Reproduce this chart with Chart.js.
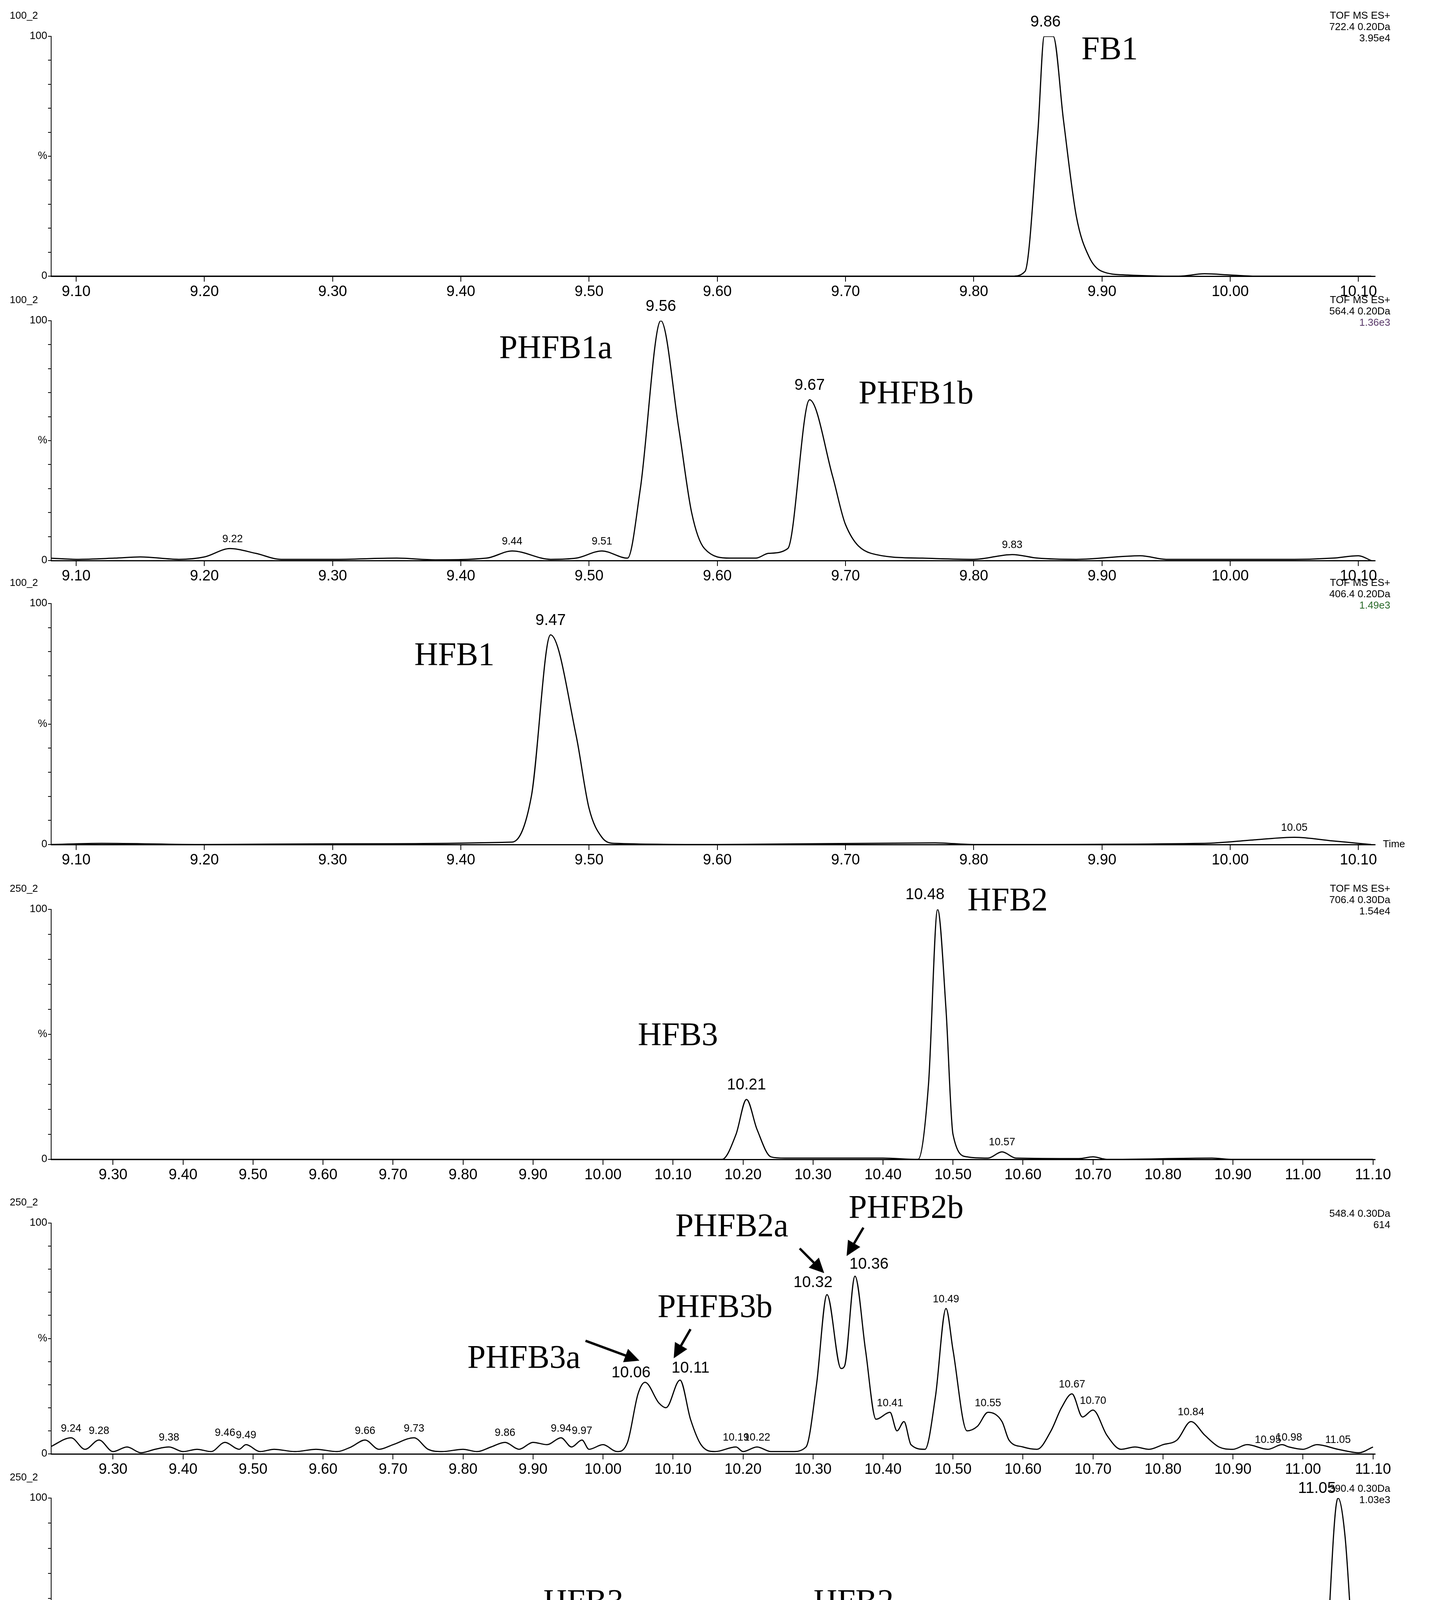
<!DOCTYPE html>
<html>
<head>
<meta charset="utf-8">
<script src="https://cdn.jsdelivr.net/npm/chart.js@4/dist/chart.umd.min.js"></script>
<style>
  body { margin: 0; background: #fff; width: 3677px; height: 4571px; position: relative; overflow: hidden; }
  canvas { position: absolute; left: 0; }
</style>
</head>
<body>
<script>
// x tick labels
const ticksA = [9.10, 9.20, 9.30, 9.40, 9.50, 9.60, 9.70, 9.80, 9.90, 10.00, 10.10];
const ticksB = [9.30, 9.40, 9.50, 9.60, 9.70, 9.80, 9.90, 10.00, 10.10, 10.20, 10.30, 10.40, 10.50, 10.60, 10.70, 10.80, 10.90, 11.00, 11.10];

// traces: [time, %]
const traceFB1 = [[9.08,0],[9.50,0],[9.83,0],[9.84,2],[9.85,60],[9.855,100],[9.862,100],[9.87,65],[9.88,25],[9.89,8],[9.90,2],[9.92,0.5],[9.96,0],[9.98,1],[10.00,0.5],[10.02,0],[10.11,0]];
const tracePHFB1 = [[9.08,1],[9.10,0.5],[9.13,1],[9.15,1.5],[9.18,0.5],[9.20,1.5],[9.22,5],[9.24,3],[9.26,0.5],[9.30,0.5],[9.35,1],[9.38,0.3],[9.42,1],[9.44,4],[9.47,0.5],[9.49,1],[9.51,4],[9.53,1],[9.54,30],[9.556,100],[9.57,55],[9.58,20],[9.59,5],[9.61,1],[9.63,1],[9.64,3],[9.655,5],[9.672,67],[9.69,35],[9.70,15],[9.72,3],[9.76,1],[9.80,0.5],[9.83,2.5],[9.85,1],[9.88,0.5],[9.93,2],[9.95,0.5],[10.00,0.5],[10.05,0.5],[10.08,1],[10.10,2],[10.11,0]];
const traceHFB1 = [[9.08,0],[9.12,0.5],[9.20,0],[9.30,0.3],[9.44,1],[9.455,20],[9.47,87],[9.49,45],[9.50,15],[9.51,3],[9.52,0.5],[9.60,0],[9.77,0.7],[9.80,0],[9.98,0.5],[10.02,2],[10.05,3],[10.08,1.5],[10.10,0.5],[10.11,0]];
const traceHFB23 = [[9.21,0],[9.80,0],[10.17,0],[10.19,10],[10.205,24],[10.22,12],[10.24,1],[10.26,0.5],[10.40,0.5],[10.45,0],[10.465,30],[10.478,100],[10.49,60],[10.50,10],[10.52,1],[10.55,0.5],[10.57,3],[10.59,0.5],[10.68,0.3],[10.70,1],[10.72,0],[10.87,0.5],[10.90,0],[11.10,0]];
const tracePHFB23 = [[9.21,3],[9.24,7],[9.26,2],[9.28,6],[9.30,1],[9.32,3],[9.34,0.5],[9.36,2],[9.38,3],[9.40,1],[9.42,2],[9.44,1],[9.46,5],[9.48,2],[9.49,4],[9.51,1],[9.53,2],[9.56,1],[9.59,2],[9.62,1],[9.64,3],[9.66,6],[9.68,2],[9.70,4],[9.73,7],[9.75,2],[9.77,1],[9.80,2],[9.82,1],[9.84,3],[9.86,5],[9.88,2],[9.90,5],[9.92,4],[9.94,7],[9.955,3],[9.97,6],[9.98,2],[10.00,4],[10.02,1],[10.035,5],[10.05,26],[10.06,31],[10.08,22],[10.09,20],[10.11,32],[10.125,15],[10.14,4],[10.16,1],[10.19,3],[10.20,1],[10.22,3],[10.24,1],[10.27,1],[10.29,3],[10.305,30],[10.32,69],[10.34,37],[10.345,38],[10.36,77],[10.375,45],[10.39,15],[10.41,18],[10.42,10],[10.43,14],[10.44,4],[10.46,2],[10.475,25],[10.49,63],[10.50,45],[10.52,10],[10.535,12],[10.55,18],[10.57,14],[10.58,6],[10.60,3],[10.62,2],[10.64,10],[10.655,20],[10.67,26],[10.685,16],[10.70,19],[10.72,8],[10.74,2],[10.76,3],[10.78,2],[10.80,4],[10.82,6],[10.84,14],[10.86,8],[10.88,3],[10.90,2],[10.92,4],[10.95,2],[10.97,4],[10.98,3],[11.00,2],[11.02,4],[11.05,2],[11.08,0.5],[11.10,3]];
const traceHFB23b = [[9.21,1],[9.23,1.5],[9.25,0.5],[9.27,1],[9.30,0.5],[9.32,5],[9.33,13],[9.345,5],[9.36,1],[9.38,2],[9.40,1.5],[9.43,2],[9.46,1],[9.50,1.5],[9.55,1],[9.60,1.5],[9.65,1],[9.70,1],[9.75,1.5],[9.80,1],[9.85,1],[9.88,2],[9.90,1],[9.93,2],[9.95,1],[9.98,1],[10.00,3],[10.02,5],[10.035,4],[10.05,1],[10.06,15],[10.075,20],[10.09,44],[10.10,25],[10.11,5],[10.12,1],[10.15,1],[10.17,3],[10.19,1],[10.21,3],[10.23,6],[10.25,4],[10.27,5],[10.29,5],[10.30,1],[10.315,25],[10.32,29],[10.335,25],[10.35,10],[10.37,3],[10.40,2],[10.43,1],[10.47,1],[10.50,1],[10.53,1],[10.55,3],[10.57,7],[10.59,5],[10.62,3],[10.65,2],[10.68,5],[10.70,4],[10.73,1],[10.76,2],[10.79,5],[10.81,3],[10.84,1],[10.87,2],[10.90,3],[10.92,6],[10.94,3],[10.95,1],[10.96,8],[10.975,3],[10.99,1],[11.02,1],[11.03,20],[11.05,100],[11.06,85],[11.075,25],[11.09,2],[11.10,3]];

// peak labels: [time, %, text, size]
const peaks1 = [[9.856,102,'9.86','big']];
const peaks2 = [[9.222,6,'9.22'],[9.44,5,'9.44'],[9.51,5,'9.51'],[9.83,3.5,'9.83'],[9.556,102,'9.56','big'],[9.672,69,'9.67','big']];
const peaks3 = [[9.47,89,'9.47','big'],[10.05,4,'10.05']];
const peaks4 = [[10.205,26,'10.21','big'],[10.46,102,'10.48','big'],[10.57,4,'10.57']];
const peaks5 = [[9.24,8,'9.24'],[9.28,7,'9.28'],[9.38,4,'9.38'],[9.46,6,'9.46'],[9.49,5,'9.49'],[9.66,7,'9.66'],[9.73,8,'9.73'],[9.86,6,'9.86'],[9.94,8,'9.94'],[9.97,7,'9.97'],
  [10.04,31,'10.06','big'],[10.125,33,'10.11','big'],[10.19,4,'10.19'],[10.22,4,'10.22'],[10.30,70,'10.32','big'],[10.38,78,'10.36','big'],[10.41,19,'10.41'],[10.49,64,'10.49'],
  [10.55,19,'10.55'],[10.67,27,'10.67'],[10.70,20,'10.70'],[10.84,15,'10.84'],[10.95,3,'10.95'],[10.98,4,'10.98'],[11.05,3,'11.05']];
const peaks6 = [[9.33,14,'9.33'],[9.93,3,'9.93'],[10.02,6,'10.02'],[10.09,46,'10.09','big'],[10.23,7,'10.23'],[10.28,6,'10.28'],[10.32,33,'10.32','big'],[10.57,8,'10.57'],
  [10.68,6,'10.68'],[10.79,6,'10.79'],[10.92,7,'10.92'],[10.96,9,'10.96'],[11.02,100,'11.05','big']];

// compound names: [time, %, text]
const names1 = [[9.906,94,'FB1']];
const names2 = [[9.474,88,'PHFB1a'],[9.755,69,'PHFB1b']];
const names3 = [[9.395,78,'HFB1']];
const names4 = [[10.107,49,'HFB3'],[10.578,103,'HFB2']];
const names5 = [[9.887,41,'PHFB3a'],[10.16,63,'PHFB3b'],[10.184,98,'PHFB2a'],[10.433,106,'PHFB2b']];
const names6 = [[9.972,58,'HFB3'],[10.358,58,'HFB2']];

// arrows: [t0, y0, t1, y1]
const arrows5 = [[9.975,49,10.052,40.4],[10.125,54,10.101,41.4],[10.281,89,10.316,78.3],[10.372,98,10.348,85.7]];

const SCALE = 2.91;

const textPlugin = {
  id: 'texts',
  afterDraw(chart) {
    const o = chart.options.plugins.texts;
    const ctx = chart.ctx;
    const xs = chart.scales.x, ys = chart.scales.y;
    const a = chart.chartArea;
    ctx.save();
    ctx.fillStyle = '#000';
    ctx.textAlign = 'center';
    ctx.textBaseline = 'bottom';
    (o.peaks || []).forEach(p => {
      ctx.font = p[3] === 'big' ? '40px "Liberation Sans"' : '27px "Liberation Sans"';
      ctx.fillText(p[2], xs.getPixelForValue(p[0]), ys.getPixelForValue(p[1]) - 4);
    });
    ctx.font = '84px "Liberation Serif"';
    ctx.textBaseline = 'middle';
    (o.names || []).forEach(n => ctx.fillText(n[2], xs.getPixelForValue(n[0]), ys.getPixelForValue(n[1])));
    ctx.lineWidth = 6;
    ctx.strokeStyle = '#000';
    (o.arrows || []).forEach(r => {
      const x0 = xs.getPixelForValue(r[0]), y0 = ys.getPixelForValue(r[1]);
      const x1 = xs.getPixelForValue(r[2]), y1 = ys.getPixelForValue(r[3]);
      const ang = Math.atan2(y1 - y0, x1 - x0);
      ctx.beginPath(); ctx.moveTo(x0, y0);
      ctx.lineTo(x1 - 30 * Math.cos(ang), y1 - 30 * Math.sin(ang)); ctx.stroke();
      ctx.beginPath(); ctx.moveTo(x1, y1);
      ctx.lineTo(x1 - 42 * Math.cos(ang - 0.45), y1 - 42 * Math.sin(ang - 0.45));
      ctx.lineTo(x1 - 42 * Math.cos(ang + 0.45), y1 - 42 * Math.sin(ang + 0.45));
      ctx.closePath(); ctx.fill();
    });
    // corner labels
    ctx.font = '26px "Liberation Sans"';
    ctx.textAlign = 'left';
    ctx.fillText(o.left, 25, a.top - 52);
    ctx.textAlign = 'right';
    (o.right || []).forEach((t, i) => {
      ctx.fillStyle = (i === o.right.length - 1 && o.lastColor) ? o.lastColor : '#000';
      ctx.fillText(t, 3560, a.top - 52 + i * 29);
    });
    if (o.time) {
      ctx.fillStyle = '#000';
      ctx.textAlign = 'left';
      ctx.fillText('Time', a.right + 20, a.bottom);
    }
    ctx.restore();
  }
};

function makePanel(top, zero, xmin, xmax, xticks, trace, extra) {
  const padTop = 110, xAxisH = 70;
  const plotH = zero - top;
  const H = padTop + plotH + xAxisH + 6;
  const c = document.createElement('canvas');
  c.width = 3677; c.height = H;
  c.style.top = (top - padTop) + 'px';
  c.style.width = '3677px'; c.style.height = H + 'px';
  document.body.appendChild(c);
  new Chart(c, {
    type: 'line',
    data: { datasets: [{ data: trace.map(p => ({ x: p[0], y: p[1] })), borderColor: '#000', borderWidth: 3, pointRadius: 0, cubicInterpolationMode: 'monotone', fill: false }] },
    options: {
      responsive: false, animation: false, devicePixelRatio: 1,
      layout: { padding: { top: padTop, right: 3677 - 3521, left: 0, bottom: 6 } },
      plugins: { legend: { display: false }, tooltip: { enabled: false }, texts: extra },
      scales: {
        x: {
          type: 'linear', min: xmin, max: xmax,
          afterBuildTicks: s => { s.ticks = xticks.map(v => ({ value: v })); },
          afterFit: s => { s.height = xAxisH; },
          ticks: { color: '#000', autoSkip: false, maxRotation: 0, font: { size: 38, family: 'Liberation Sans' }, padding: 4, callback: v => v.toFixed(2) },
          grid: { drawOnChartArea: false, tickLength: 14, color: '#000', lineWidth: 2 },
          border: { color: '#000', width: 3 }
        },
        y: {
          min: 0, max: 100,
          afterBuildTicks: s => { s.ticks = [0,10,20,30,40,50,60,70,80,90,100].map(v => ({ value: v })); },
          afterFit: s => { s.width = 131; },
          ticks: { color: '#000', autoSkip: false, font: { size: 27, family: 'Liberation Sans' }, padding: 2,
                   callback: v => v === 100 ? '100' : v === 0 ? '0' : v === 50 ? '%' : '' },
          grid: { drawOnChartArea: false, tickLength: 8, color: '#000', lineWidth: 2 },
          border: { color: '#000', width: 2 }
        }
      }
    },
    plugins: [textPlugin]
  });
}

makePanel(93, 707, 9.0805, 10.113, ticksA, traceFB1, { peaks: peaks1, names: names1, left: '100_2', right: ['TOF MS ES+', '722.4 0.20Da', '3.95e4'] });
makePanel(821, 1435, 9.0805, 10.113, ticksA, tracePHFB1, { peaks: peaks2, names: names2, left: '100_2', right: ['TOF MS ES+', '564.4 0.20Da', '1.36e3'], lastColor: '#5a3a6a' });
makePanel(1545, 2162, 9.0805, 10.113, ticksA, traceHFB1, { peaks: peaks3, names: names3, left: '100_2', right: ['TOF MS ES+', '406.4 0.20Da', '1.49e3'], lastColor: '#2a6a2a', time: true });
makePanel(2328, 2968, 9.2116, 11.103, ticksB, traceHFB23, { peaks: peaks4, names: names4, left: '250_2', right: ['TOF MS ES+', '706.4 0.30Da', '1.54e4'] });
makePanel(3131, 3722, 9.2116, 11.103, ticksB, tracePHFB23, { peaks: peaks5, names: names5, arrows: arrows5, left: '250_2', right: ['', '548.4 0.30Da', '614'] });
makePanel(3835, 4478, 9.2116, 11.103, ticksB, traceHFB23b, { peaks: peaks6, names: names6, left: '250_2', right: ['', '390.4 0.30Da', '1.03e3'], time: true });
</script>
</body>
</html>
